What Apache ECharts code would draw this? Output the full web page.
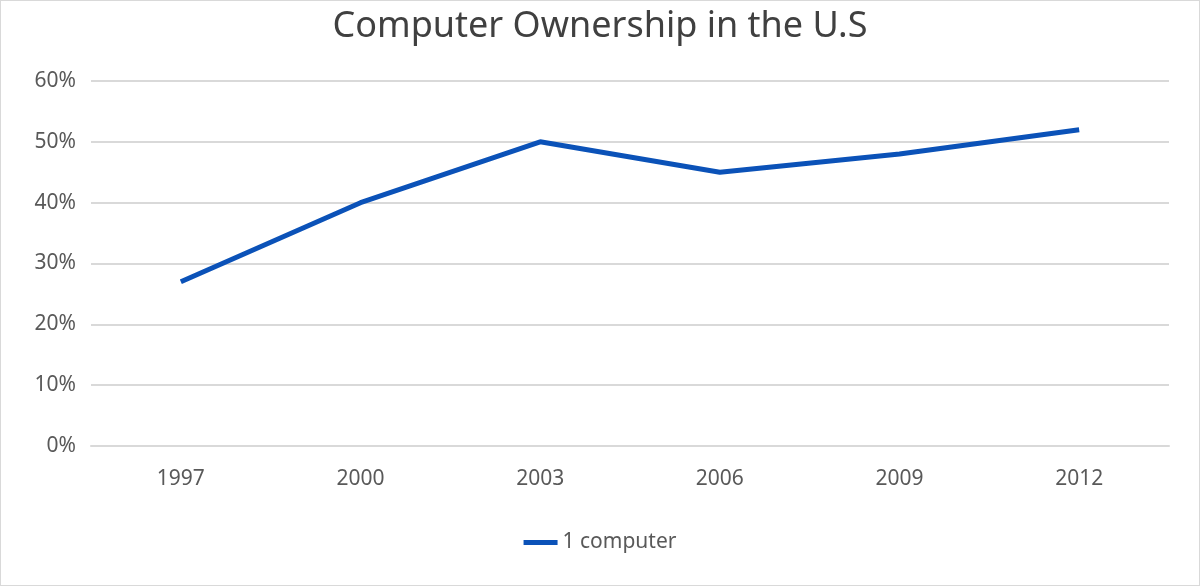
<!DOCTYPE html>
<html>
<head>
<meta charset="utf-8">
<script src="https://cdn.jsdelivr.net/npm/echarts@6/dist/echarts.min.js"></script>
<style>
html,body{margin:0;padding:0;background:#fff;}
#chart{width:1198px;height:584px;border:1px solid #d9d9d9;}
</style>
</head>
<body>
<div id="chart"></div>
<script>
const titleText = "Computer Ownership in the U.S";
const categories = ["1997", "2000", "2003", "2006", "2009", "2012"];
const seriesName = "1 computer";
const values = [27, 40, 50, 45, 48, 52];
const yMin = 0, yMax = 60, yStep = 10;

const chart = echarts.init(document.getElementById('chart'));
const font = "'Noto Sans', 'Open Sans', sans-serif";
chart.setOption({
  animation: false,
  title: {
    text: titleText, left: 'center', top: 3,
    textStyle: {fontFamily: font, fontSize: 36, fontWeight: 'normal', color: '#404040'}
  },
  legend: {
    data: [seriesName], bottom: 27, left: 'center',
    itemWidth: 34, itemHeight: 5, icon: 'rect', itemGap: 10,
    textStyle: {fontFamily: font, fontSize: 21, color: '#595959'}
  },
  grid: {left: 90, right: 30, top: 80, bottom: 139, containLabel: false},
  xAxis: {
    type: 'category', data: categories, boundaryGap: true,
    axisLine: {show: true, lineStyle: {color: '#d9d9d9', width: 2}},
    axisTick: {show: false},
    axisLabel: {fontFamily: font, fontSize: 21, color: '#595959', margin: 23}
  },
  yAxis: {
    type: 'value', min: yMin, max: yMax, interval: yStep,
    axisLine: {show: false}, axisTick: {show: false},
    splitLine: {lineStyle: {color: '#d9d9d9', width: 2}},
    axisLabel: {fontFamily: font, fontSize: 21, color: '#595959', margin: 15, formatter: '{value}%'}
  },
  series: [{
    name: seriesName, type: 'line', data: values,
    symbol: 'none', lineStyle: {color: '#0b52b8', width: 5},
    itemStyle: {color: '#0b52b8'}
  }]
});
</script>
</body>
</html>
